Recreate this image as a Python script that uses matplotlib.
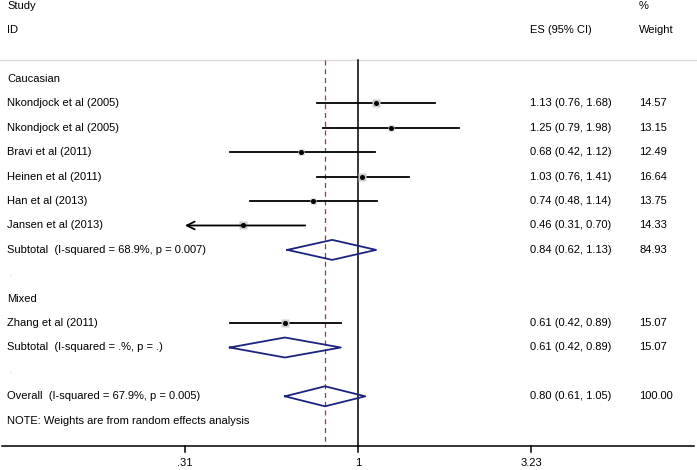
import numpy as np
import matplotlib
matplotlib.use('Agg')
import matplotlib.pyplot as plt
import matplotlib.transforms as mtransforms

plt.rcParams['font.family'] = ['Liberation Sans', 'DejaVu Sans']

# rows: label, es, lo, hi, weight, kind
labels = ['Caucasian',
          'Nkondjock et al (2005)', 'Nkondjock et al (2005)', 'Bravi et al (2011)',
          'Heinen et al (2011)', 'Han et al (2013)', 'Jansen et al (2013)',
          'Subtotal  (I-squared = 68.9%, p = 0.007)', '.',
          'Mixed',
          'Zhang et al (2011)',
          'Subtotal  (I-squared = .%, p = .)', '.',
          'Overall  (I-squared = 67.9%, p = 0.005)',
          'NOTE: Weights are from random effects analysis']
kinds = ['head', 'study', 'study', 'study', 'study', 'study', 'study',
         'sub', 'dot', 'head', 'study', 'sub', 'dot', 'sub', 'note']
es = [None, 1.13, 1.25, 0.68, 1.03, 0.74, 0.46, 0.84, None, None, 0.61, 0.61, None, 0.80, None]
lo = [None, 0.76, 0.79, 0.42, 0.76, 0.48, 0.31, 0.62, None, None, 0.42, 0.42, None, 0.61, None]
hi = [None, 1.68, 1.98, 1.12, 1.41, 1.14, 0.70, 1.13, None, None, 0.89, 0.89, None, 1.05, None]
weights = [None, '14.57', '13.15', '12.49', '16.64', '13.75', '14.33', '84.93', None, None,
           '15.07', '15.07', None, '100.00', None]

overall_es = 0.80
ticks = [0.31, 1, 3.23]
tick_labels = ['.31', '1', '3.23']
x_min = 0.31  # left clip, arrow beyond

W, H = 697, 470
fig = plt.figure(figsize=(W / 100, H / 100), dpi=100)
ax = fig.add_axes([0, 0, 1, 1])
ax.set_xscale('log')
# 1 sits at px 358, 147.8 px per ln unit
ax.set_xlim(np.exp(-358 / 147.8), np.exp((W - 358) / 147.8))
ax.set_ylim(16.02, -3.24)
ax.axis('off')

fx = mtransforms.blended_transform_factory(ax.transAxes, ax.transData)
fs = 8.0

def px(x):
    return x / W

# headers
ax.text(px(7), -3, 'Study', transform=fx, fontsize=fs, va='center')
ax.text(px(7), -2, 'ID', transform=fx, fontsize=fs, va='center')
ax.text(px(530), -2, 'ES (95% CI)', transform=fx, fontsize=fs, va='center')
ax.text(px(639), -3, '%', transform=fx, fontsize=fs, va='center')
ax.text(px(639), -2, 'Weight', transform=fx, fontsize=fs, va='center')
ax.plot([0, 1], [-0.78, -0.78], transform=fx, color='#d8d8d8', lw=1)

# reference lines
ax.plot([1, 1], [-0.78, 15.04], color='black', lw=1.1)
ax.plot([overall_es, overall_es], [-0.78, 15.04], color='#a8323e', lw=0.9, ls=(0, (4, 3)))

for i, lab in enumerate(labels):
    k = kinds[i]
    if k == 'dot':
        ax.text(px(9), i, lab, transform=fx, fontsize=5, color='#aaaaaa', va='center')
    else:
        ax.text(px(7), i, lab, transform=fx, fontsize=fs, va='center')
    if es[i] is None:
        continue
    ax.text(px(530), i, f'{es[i]:.2f} ({lo[i]:.2f}, {hi[i]:.2f})', transform=fx,
            fontsize=fs, va='center')
    ax.text(px(639), i, weights[i], transform=fx, fontsize=fs, va='center')
    if k == 'study':
        if lo[i] <= x_min:
            ax.annotate('', xy=(x_min, i), xytext=(hi[i], i),
                        arrowprops=dict(arrowstyle='->', color='black', lw=1.3,
                                        mutation_scale=14, shrinkA=0, shrinkB=0))
        else:
            ax.plot([lo[i], hi[i]], [i, i], color='black', lw=1.3)
        ax.plot(es[i], i, marker='s', ms=float(weights[i]) * 0.36, color='#cccccc', mec='none')
        ax.plot(es[i], i, marker='o', ms=2.6, color='black')
    else:
        ax.plot([lo[i], es[i], hi[i], es[i], lo[i]], [i, i - 0.41, i, i + 0.41, i],
                color='#1a237e', lw=1.3)

# x axis
ax.plot([px(2), px(694)], [15.04, 15.04], transform=fx, color='black', lw=1.1)
for t, tl in zip(ticks, tick_labels):
    ax.plot([t, t], [15.04, 15.3], color='black', lw=1.1)
    ax.text(t, 15.72, tl, fontsize=fs, ha='center', va='center')

fig.savefig('out.png', dpi=100)
